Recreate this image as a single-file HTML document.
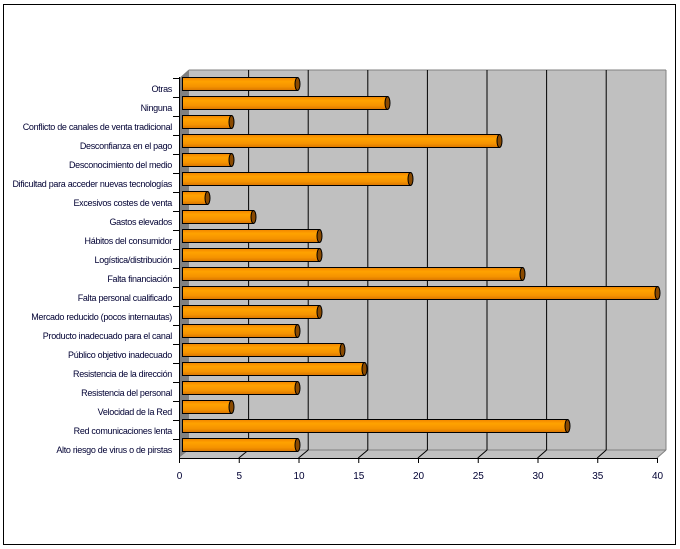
<!DOCTYPE html>
<html><head><meta charset="utf-8"><style>
html,body{margin:0;padding:0;background:#fff;}
svg{display:block;}
text{font-family:"Liberation Sans",Arial,sans-serif;font-size:9px;fill:#000033;}
</style></head><body>
<svg id="s" width="680" height="549" xmlns="http://www.w3.org/2000/svg">
<defs>
<linearGradient id="g" x1="0" y1="0" x2="0" y2="1">
<stop offset="0" stop-color="#f08400"/><stop offset="0.3" stop-color="#ffa200"/><stop offset="0.7" stop-color="#f59300"/><stop offset="1" stop-color="#d87400"/>
</linearGradient>
</defs>
<rect x="3.5" y="4.5" width="672" height="540" fill="#fff" stroke="#000" stroke-width="1"/>
<polygon points="189,70 666,70 666,450 189,450" fill="#c0c0c0"/>
<polygon points="179,79 189,70 189,450 179,458" fill="#808080"/>
<polygon points="179,458 189,450 666,450 657,458" fill="#c0c0c0"/>
<line x1="189" y1="450" x2="666" y2="450" stroke="#808080"/>
<line x1="666" y1="70" x2="666" y2="450" stroke="#808080"/>
<line x1="666" y1="450" x2="657" y2="458" stroke="#808080"/>
<line x1="179" y1="79" x2="189" y2="70" stroke="#808080"/>
<line x1="189" y1="70" x2="666" y2="70" stroke="#808080"/>
<g id="grid"></g>
<g id="bars"></g>
<line x1="179" y1="458.5" x2="657" y2="458.5" stroke="#000"/>
<line x1="179.5" y1="77" x2="179.5" y2="458" stroke="#000"/>
<g id="ax"></g>
</svg>
<script>
var ns="http://www.w3.org/2000/svg";
function el(p,t,a,txt){var e=document.createElementNS(ns,t);for(var k in a)e.setAttribute(k,a[k]);if(txt!==undefined)e.textContent=txt;document.getElementById(p).appendChild(e);return e;}
var u=11.95;
for(var i=1;i<8;i++){var bx=189+i*5*u*0.9975, fx=179+i*5*u;
 el("grid","line",{x1:bx,y1:70,x2:bx,y2:450,stroke:"#000","stroke-width":1});
 el("grid","line",{x1:bx,y1:450,x2:fx,y2:458,stroke:"#000","stroke-width":1});}
for(var i=0;i<=8;i++){var fx=179.5+i*5*u;
 el("ax","line",{x1:fx,y1:458,x2:fx,y2:463,stroke:"#000"});
 el("ax","text",{x:fx,y:479,"text-anchor":"middle",style:"font-size:10px"},String(i*5));}
var L=["Otras","Ninguna","Conflicto de canales de venta tradicional","Desconfianza en el pago","Desconocimiento del medio","Dificultad para acceder nuevas tecnologías","Excesivos costes de venta","Gastos elevados","Hábitos del consumidor","Logística/distribución","Falta financiación","Falta personal cualificado","Mercado reducido (pocos internautas)","Producto inadecuado para el canal","Público objetivo inadecuado","Resistencia de la dirección","Resistencia del personal","Velocidad de la Red","Red comunicaciones lenta","Alto riesgo de virus o de pirstas"];
var E=[297,387,231,499,231,410,207,253,319,319,522,657,319,297,342,364,297,231,567,297];
for(var i=0;i<20;i++){var cy=84+i*19.0;
 el("ax","line",{x1:173,y1:cy-5.5,x2:179,y2:cy-5.5,stroke:"#000"});
 el("ax","text",{x:172,y:cy+8,"text-anchor":"end",style:"letter-spacing:-0.3px"},L[i]);
 var w=E[i]-182;
 el("bars","rect",{x:182.5,y:cy-6.5,width:w,height:13,fill:"url(#g)",stroke:"#000","stroke-width":1});
 el("bars","ellipse",{cx:E[i]+0.5,cy:cy,rx:2.5,ry:6.5,fill:"#8a4a00",stroke:"#000","stroke-width":1});
}
</script>
</body></html>
